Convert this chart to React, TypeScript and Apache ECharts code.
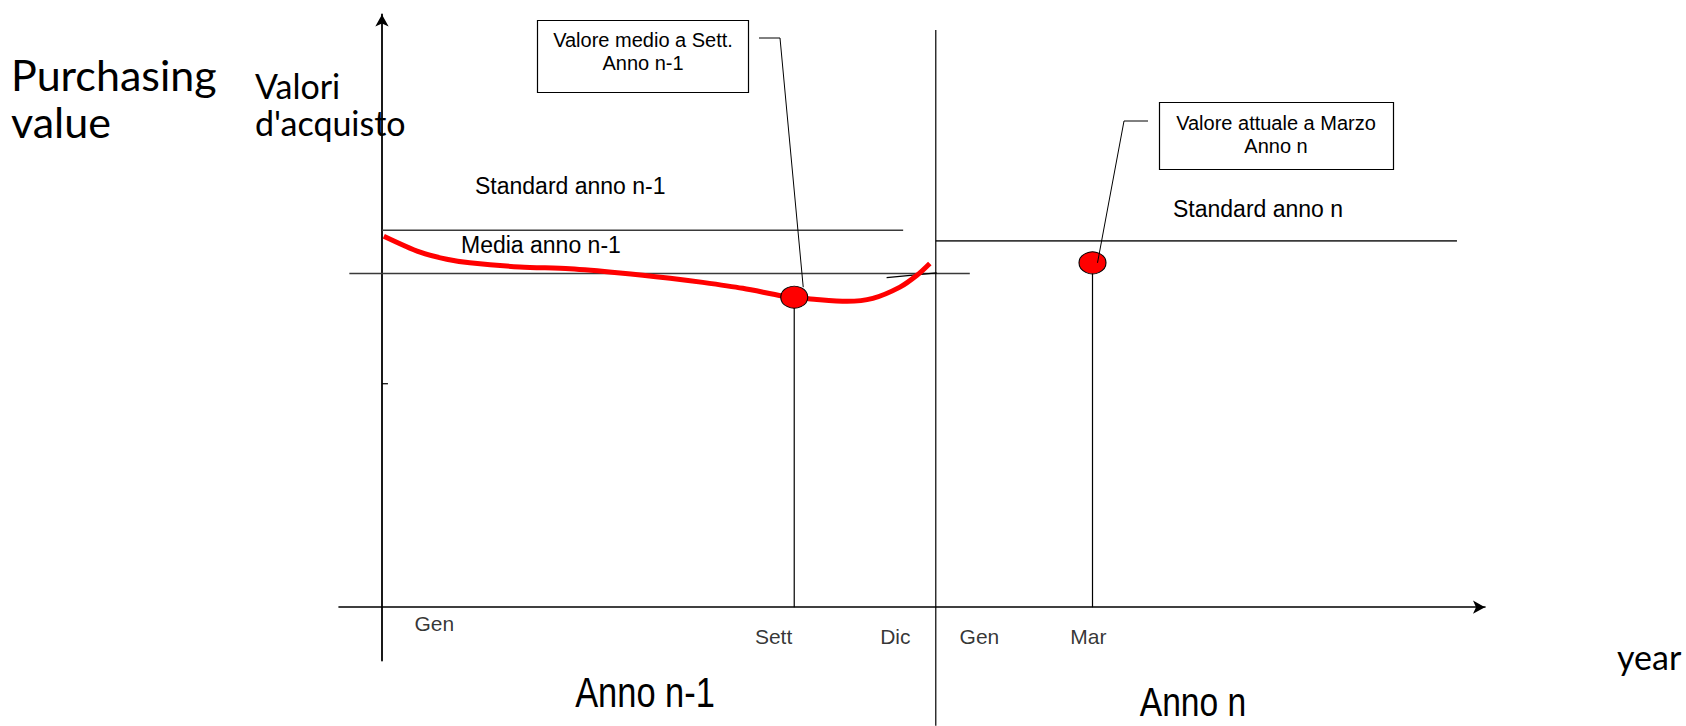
import React, { useEffect, useRef } from "react";
import * as echarts from "echarts";

// Timeline in months from January of year n-1 (12 = start of year n); value axis in arbitrary units.
const curveX = [0.04, 0.83, 1.41, 1.91, 3.0, 4.09, 5.18, 6.27, 6.98, 7.85, 8.72, 8.97, 9.46, 10.12, 10.68, 11.27, 11.64, 11.92];
const curveY = [62.6, 59.9, 58.7, 58.1, 57.4, 57.1, 56.4, 55.5, 54.8, 53.8, 52.5, 52.3, 51.9, 51.6, 52.1, 54.0, 56.0, 58.0];

// Reference levels: [xStart, xEnd, level]
const standardPrev = [0, 11.34, 63.6];
const averagePrev = [-0.71, 12.79, 56.3];
const standardCurr = [12.05, 23.39, 61.8];

// Year boundary
const yearBoundaryX = 12.05;
const yearBoundaryY = [97.4, -20];

// Highlighted readings
const readingNames = ["Sett", "Mar"];
const readingX = [8.97, 15.46];
const readingY = [52.3, 58.1];

// Month tick labels under the time axis
const monthLabels = ["Gen", "Sett", "Dic", "Gen", "Mar"];
const monthX = [1.14, 8.52, 11.17, 13.0, 15.37];
const monthY = [-2.83, -4.96, -4.96, -4.96, -4.96];

// Small marks
const axisMarkX = [0, 0.13];
const axisMarkY = 37.7;
const strayX = [10.98, 12.07];
const strayY = [55.6, 56.4];

const ARIAL = '"Liberation Sans", Arial, sans-serif';
const CAL = 'Lato, Carlito, Calibri, sans-serif';

function txt(text: string, x: number, y: number, size: number, family: string, align = "left", scaleX = 1) {
  return {
    type: "text",
    x,
    y,
    scaleX,
    silent: true,
    style: {
      text,
      fill: "#000",
      fontSize: size,
      fontFamily: family,
      align,
      verticalAlign: "middle",
      textAlign: align,
      textVerticalAlign: "middle",
    },
  };
}

function levelSeries(l: number[]) {
  return {
    type: "line",
    silent: true,
    symbol: "none",
    data: [
      [l[0], l[2]],
      [l[1], l[2]],
    ],
    lineStyle: { color: "#3a3a3a", width: 1.6 },
    z: 2,
  };
}

export default function App() {
  const ref = useRef<HTMLDivElement>(null);

  useEffect(() => {
    if (!ref.current) return;
    const chart = echarts.init(ref.current, undefined, { renderer: "svg" });

    const axisCommon = {
      type: "value",
      axisTick: { show: false },
      axisLabel: { show: false },
      splitLine: { show: false },
    };

    chart.setOption({
      animation: false,
      backgroundColor: "#fff",
      grid: { left: 339, top: 14.5, width: 1146, height: 646 },
      xAxis: {
        ...axisCommon,
        min: -0.935,
        max: 24,
        axisLine: {
          onZero: true,
          symbol: ["none", "arrow"],
          symbolSize: [10, 12],
          lineStyle: { color: "#000", width: 1.6 },
        },
      },
      yAxis: {
        ...axisCommon,
        min: -9,
        max: 100,
        axisLine: {
          onZero: true,
          symbol: ["none", "arrow"],
          symbolSize: [10, 12],
          lineStyle: { color: "#000", width: 1.8 },
        },
      },
      series: [
        levelSeries(standardPrev),
        levelSeries(averagePrev),
        levelSeries(standardCurr),
        {
          type: "line",
          silent: true,
          symbol: "none",
          clip: false,
          data: yearBoundaryY.map((y) => [yearBoundaryX, y]),
          lineStyle: { color: "#000", width: 1.2 },
          z: 2,
        },
        ...readingX.map((x, i) => ({
          type: "line",
          silent: true,
          symbol: "none",
          data: [
            [x, 0],
            [x, readingY[i]],
          ],
          lineStyle: { color: "#000", width: 1.2 },
          z: 2,
        })),
        {
          type: "line",
          silent: true,
          symbol: "none",
          data: axisMarkX.map((x) => [x, axisMarkY]),
          lineStyle: { color: "#000", width: 1.2 },
        },
        {
          type: "line",
          silent: true,
          symbol: "none",
          data: strayX.map((x, i) => [x, strayY[i]]),
          lineStyle: { color: "#000", width: 1.2 },
        },
        {
          type: "line",
          silent: true,
          symbol: "none",
          smooth: 0.3,
          data: curveX.map((x, i) => [x, curveY[i]]),
          lineStyle: { color: "#ff0000", width: 5 },
          z: 4,
        },
        {
          type: "scatter",
          silent: true,
          symbol: "circle",
          symbolSize: [27, 22],
          data: readingX.map((x, i) => ({ name: readingNames[i], value: [x, readingY[i]] })),
          itemStyle: { color: "#ff0000", borderColor: "#000", borderWidth: 1, opacity: 1 },
          z: 6,
        },
        {
          type: "scatter",
          silent: true,
          symbolSize: 1,
          data: monthLabels.map((n, i) => ({ name: n, value: [monthX[i], monthY[i]] })),
          itemStyle: { color: "rgba(0,0,0,0)" },
          label: {
            show: true,
            position: "inside",
            formatter: (p: any) => p.name,
            color: "#000",
            fontSize: 21,
            fontFamily: ARIAL,
          },
          z: 5,
        },
      ],
    });

    const p1 = chart.convertToPixel({ gridIndex: 0 }, [readingX[0], readingY[0]]) as number[];
    const p2 = chart.convertToPixel({ gridIndex: 0 }, [readingX[1], readingY[1]]) as number[];

    chart.setOption({
      graphic: [
        txt("Purchasing", 11, 74, 43, CAL),
        txt("value", 11, 121, 43, CAL),
        txt("Valori", 255, 85, 34, CAL),
        txt("d'acquisto", 255, 122, 34, CAL),
        txt("year", 1617, 656, 34, CAL),
        txt("Standard anno n-1", 475, 186, 23, ARIAL),
        txt("Media anno n-1", 461, 245, 23, ARIAL),
        txt("Standard anno n", 1173, 209, 23, ARIAL),
        txt("Anno n-1", 645, 692, 42, ARIAL, "center", 0.82),
        txt("Anno n", 1193, 702, 41, ARIAL, "center", 0.82),
        {
          type: "rect",
          silent: true,
          shape: { x: 537.5, y: 20.5, width: 211, height: 72 },
          style: { fill: "#fff", stroke: "#000", lineWidth: 1.2 },
        },
        txt("Valore medio a Sett.", 643, 40, 20, ARIAL, "center"),
        txt("Anno n-1", 643, 63, 20, ARIAL, "center"),
        {
          type: "rect",
          silent: true,
          shape: { x: 1159.5, y: 102.5, width: 234, height: 67 },
          style: { fill: "#fff", stroke: "#000", lineWidth: 1.2 },
        },
        txt("Valore attuale a Marzo", 1276, 123, 20, ARIAL, "center"),
        txt("Anno n", 1276, 146, 20, ARIAL, "center"),
        {
          type: "polyline",
          silent: true,
          z: 100,
          shape: { points: [[759, 38], [780, 38], [p1[0] + 9, p1[1] - 10]] },
          style: { fill: "none", stroke: "#000", lineWidth: 1 },
        },
        {
          type: "polyline",
          silent: true,
          z: 100,
          shape: { points: [[1148, 121], [1124, 121], [p2[0] + 5, p2[1]]] },
          style: { fill: "none", stroke: "#000", lineWidth: 1 },
        },
      ],
    });

    return () => chart.dispose();
  }, []);

  return (
    <div
      ref={ref}
      style={{ position: "fixed", left: 0, top: 0, width: 1686, height: 726, background: "#fff" }}
    />
  );
}
